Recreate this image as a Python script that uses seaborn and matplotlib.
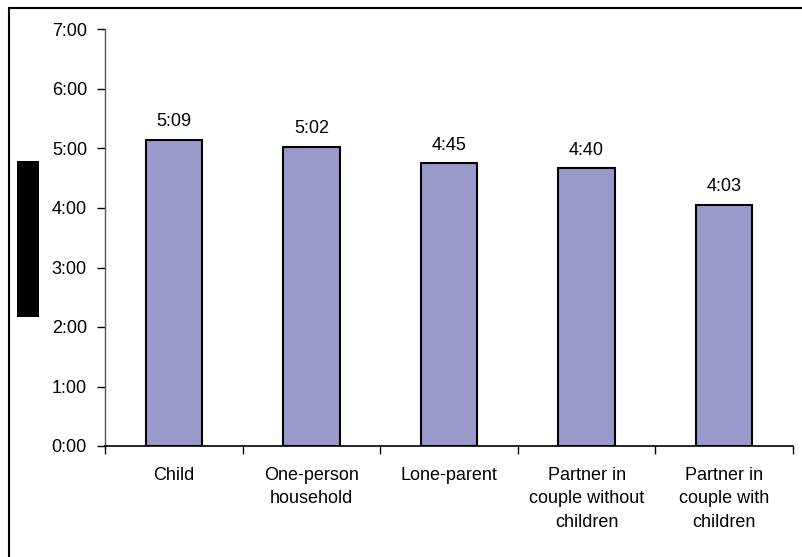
import matplotlib
matplotlib.use("Agg")
import matplotlib.pyplot as plt
import seaborn as sns
import pandas as pd
from matplotlib.lines import Line2D
from matplotlib.patches import Rectangle
from matplotlib.ticker import FixedLocator

categories = ["Child", "One-person\nhousehold", "Lone-parent",
              "Partner in\ncouple without\nchildren", "Partner in\ncouple with\nchildren"]
minutes = [309, 302, 285, 280, 243]
value_labels = ["5:09", "5:02", "4:45", "4:40", "4:03"]
ytick_values = [0, 60, 120, 180, 240, 300, 360, 420]
ytick_labels = ["0:00", "1:00", "2:00", "3:00", "4:00", "5:00", "6:00", "7:00"]

sns.set_theme(style="white")
plt.rcParams['font.family'] = ['Liberation Sans', 'DejaVu Sans']

W, H = 802, 557
FS = 13
fig = plt.figure(figsize=(W / 100, H / 100), dpi=100)
fig.patch.set_facecolor("white")
ax = fig.add_axes([105 / W, 1 - 446 / H, (793 - 105) / W, (446 - 29.5) / H])

df = pd.DataFrame({"cat": categories, "min": minutes})
sns.barplot(data=df, x="cat", y="min", color="#9999CC", saturation=1,
            edgecolor="black", linewidth=1.5, width=0.41, ax=ax)

ax.set_xlim(-0.5, 4.5)
ax.set_ylim(0, 420)
ax.set_yticks(ytick_values)
ax.set_yticklabels(ytick_labels)
ax.set_xlabel("")
ax.set_ylabel("")
ax.tick_params(axis="y", length=6, width=1, color="black", direction="out",
               labelsize=FS, labelcolor="black", left=True, pad=7)
ax.tick_params(axis="x", which="major", length=0, labelsize=FS,
               labelcolor="black", pad=15)
ax.xaxis.set_minor_locator(FixedLocator([-0.5, 0.5, 1.5, 2.5, 3.5, 4.5]))
ax.tick_params(axis="x", which="minor", length=6, width=1, color="black",
               direction="out", bottom=True)
for lbl in ax.get_xticklabels():
    lbl.set_linespacing(1.5)

for s in ["top", "right"]:
    ax.spines[s].set_visible(False)
ax.spines["left"].set_color("#555555")
ax.spines["left"].set_linewidth(1)
ax.spines["bottom"].set_color("black")
ax.spines["bottom"].set_linewidth(1.2)

ax.bar_label(ax.containers[0], labels=value_labels, padding=7,
             fontsize=FS, color="black")

# figure border (top and left visible)
fig.add_artist(Line2D([9 / W, 1.0], [1 - 8 / H, 1 - 8 / H], color="black",
                      linewidth=1.5, transform=fig.transFigure))
fig.add_artist(Line2D([9 / W, 9 / W], [0, 1 - 8 / H], color="black",
                      linewidth=1.5, transform=fig.transFigure))
# redacted y-axis label block
fig.add_artist(Rectangle((17 / W, 1 - 317 / H), 22 / W, 156 / H,
                         facecolor="black", edgecolor="none",
                         transform=fig.transFigure))

fig.savefig("out.png", dpi=100, facecolor="white")
